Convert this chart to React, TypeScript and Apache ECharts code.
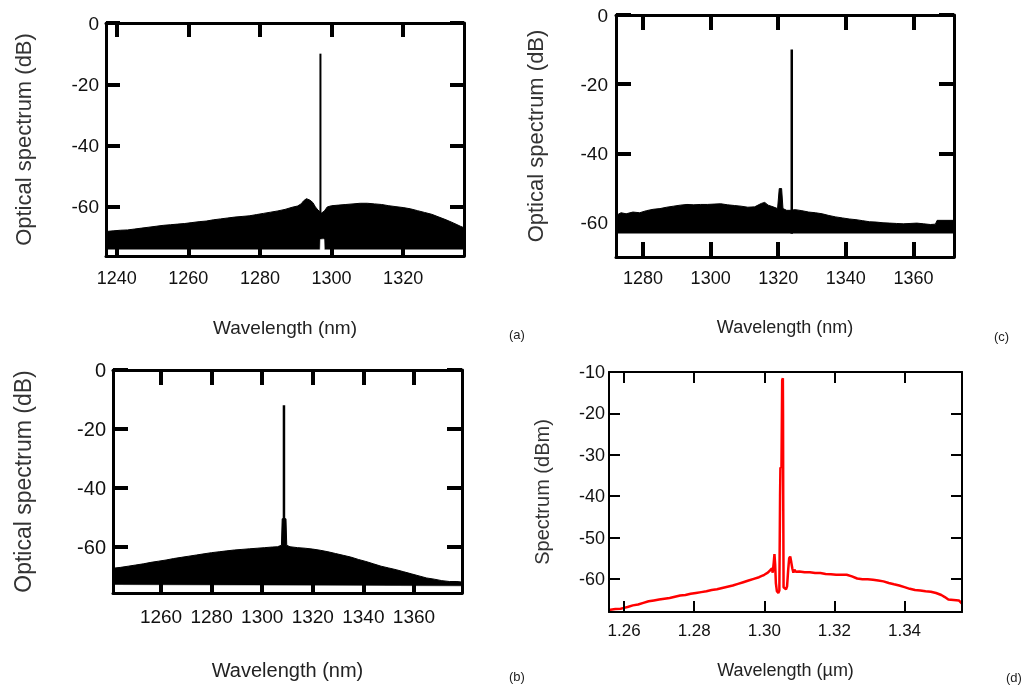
import React, { useEffect, useRef } from "react";
import * as echarts from "echarts";

// ---------- Panel (a) ----------
const A_UPPER: number[][] = [
  [1237, -68], [1239, -67.8], [1241, -67.6], [1243, -67.5], [1245, -67.2], [1247, -66.9],
  [1249, -66.6], [1251, -66.3], [1253, -66], [1255, -65.8], [1257, -65.6], [1259, -65.4],
  [1261, -65.1], [1263, -64.8], [1265, -64.6], [1267, -64.2], [1269, -63.9], [1271, -63.6],
  [1273, -63.3], [1275, -63.1], [1277, -62.9], [1279, -62.5], [1281, -62.1], [1283, -61.7],
  [1285, -61.3], [1287, -60.8], [1289, -60.1], [1290.5, -59.7], [1291.5, -59], [1292.2, -58],
  [1293, -57.3], [1294, -57.8], [1294.8, -58.6], [1295.5, -60], [1296.2, -61], [1297.2, -62],
  [1298, -61.3], [1298.8, -60], [1300, -59.6], [1302, -59.4], [1304, -59.2], [1306, -59],
  [1308, -58.8], [1310, -58.8], [1312, -59], [1314, -59.2], [1316, -59.6], [1318, -59.9],
  [1320, -60.2], [1322, -60.6], [1324, -61.2], [1326, -61.8], [1328, -62.4], [1330, -63.3],
  [1332, -64.2], [1334, -65.2], [1336, -66.3], [1337, -66.8],
];
const A_LOWER: number[][] = [
  [1237, -74], [1296.8, -74], [1296.9, -70.5], [1297.9, -70.5], [1298, -74], [1337, -74],
];
const A_PEAK = { x: 1296.9, base: -70.5, top: -10 };
const A_XTICKS = [1240, 1260, 1280, 1300, 1320];
const A_YTICKS = [0, -20, -40, -60];

// ---------- Panel (c) ----------
const C_UPPER: number[][] = [
  [1272, -58], [1273.5, -57.2], [1275, -57.5], [1277, -57], [1279, -57.2], [1281, -56.6],
  [1283, -56.2], [1285, -56], [1287, -55.6], [1289, -55.3], [1291, -55], [1293, -54.8],
  [1295, -54.9], [1297, -54.8], [1299, -54.8], [1301, -54.7], [1303, -54.6], [1305, -54.9],
  [1307, -55.1], [1309, -55.3], [1311, -55.6], [1313, -55.5], [1315, -54.5], [1316, -54.2],
  [1317, -55], [1318.5, -55.5], [1319.8, -56], [1320.3, -50.2], [1321, -50.2], [1321.4, -56],
  [1322.5, -56.5], [1323.5, -56.5], [1325, -56.3], [1327, -56.6], [1329, -57], [1331, -57.2],
  [1333, -57.5], [1335, -58], [1337, -58.4], [1339, -58.7], [1341, -59], [1343, -59.2],
  [1345, -59.5], [1347, -59.8], [1349, -59.9], [1351, -60.1], [1353, -60.2], [1355, -60.3],
  [1357, -60.4], [1359, -60.3], [1361, -60.2], [1363, -60.4], [1365, -60.6], [1366.5, -60.5],
  [1367, -59.4], [1372, -59.4],
];
const C_LOWER: number[][] = [[1272, -63.3], [1372, -63.3]];
const C_PEAK = { x: 1324.0, base: -63.3, top: -10 };
const C_XTICKS = [1280, 1300, 1320, 1340, 1360];
const C_YTICKS = [0, -20, -40, -60];

// ---------- Panel (b) ----------
const B_UPPER: number[][] = [
  [1241, -67.3], [1244, -67], [1247, -66.6], [1250, -66.2], [1253, -65.8], [1256, -65.3],
  [1259, -64.9], [1262, -64.5], [1265, -64], [1268, -63.6], [1271, -63.2], [1274, -62.8],
  [1277, -62.4], [1280, -62], [1283, -61.7], [1286, -61.4], [1289, -61.1], [1292, -60.9],
  [1295, -60.7], [1298, -60.5], [1301, -60.3], [1304, -60.1], [1306, -60], [1307.6, -59.5],
  [1307.9, -50.5], [1309.4, -50.5], [1309.7, -59.5], [1311, -60], [1314, -60.3], [1317, -60.5],
  [1320, -60.8], [1323, -61.2], [1326, -61.7], [1329, -62.3], [1332, -62.9], [1335, -63.5],
  [1338, -64.3], [1341, -65], [1344, -65.8], [1347, -66.6], [1350, -67.2], [1353, -67.8],
  [1356, -68.5], [1359, -69.2], [1362, -69.9], [1365, -70.6], [1368, -71], [1371, -71.5],
  [1374, -71.8], [1377, -71.8], [1379, -72],
];
const B_LOWER: number[][] = [[1241, -73], [1379, -73.4]];
const B_PEAK = { x: 1308.6, base: -60, top: -12 };
const B_XTICKS = [1260, 1280, 1300, 1320, 1340, 1360];
const B_YTICKS = [0, -20, -40, -60];

// ---------- Panel (d) ----------
const D_LINE: number[][] = [
  [1.2557, -67.5], [1.2575, -67.3], [1.259, -67.2], [1.26, -67.0], [1.261, -66.8], [1.2625, -66.4],
  [1.264, -66.2], [1.2655, -65.8], [1.267, -65.4], [1.2685, -65.2], [1.27, -65.0], [1.2715, -64.8],
  [1.273, -64.6], [1.2745, -64.3], [1.276, -64.0], [1.2775, -63.9], [1.279, -63.6], [1.2805, -63.4],
  [1.282, -63.2], [1.2835, -63.0], [1.285, -62.7], [1.2865, -62.5], [1.288, -62.2], [1.2895, -61.9],
  [1.291, -61.6], [1.2925, -61.2], [1.294, -60.8], [1.2955, -60.4], [1.297, -60.0], [1.2985, -59.6],
  [1.3, -59.0], [1.301, -58.5], [1.3018, -57.8], [1.3022, -57.5], [1.3024, -58.5], [1.3027, -56],
  [1.3029, -54], [1.3031, -56.5], [1.3033, -61], [1.3036, -63], [1.304, -63.4], [1.3043, -62.8],
  [1.3045, -40], [1.3046, -33.2], [1.3049, -33], [1.3051, -12], [1.3053, -11.5], [1.30535, -20],
  [1.3054, -40], [1.3055, -62], [1.3062, -62.5], [1.3065, -61.8], [1.3068, -58], [1.3071, -55.0],
  [1.3074, -54.6], [1.3077, -56], [1.308, -57.5], [1.3083, -58.5], [1.3086, -57.8], [1.309, -58.3],
  [1.31, -58.2], [1.3115, -58.4], [1.313, -58.4], [1.3145, -58.6], [1.316, -58.6], [1.3175, -58.8],
  [1.319, -58.9], [1.3205, -59.0], [1.322, -59.0], [1.3235, -59.0], [1.325, -59.4], [1.3265, -59.9],
  [1.328, -60.1], [1.3295, -60.1], [1.331, -60.2], [1.3325, -60.4], [1.334, -60.6], [1.3355, -61.0],
  [1.337, -61.3], [1.3385, -61.6], [1.34, -62.0], [1.3415, -62.4], [1.343, -62.7], [1.3445, -62.8],
  [1.346, -63.0], [1.3475, -63.1], [1.349, -63.4], [1.3505, -63.9], [1.3515, -64.4], [1.3525, -65.0],
  [1.354, -65.1], [1.3555, -65.2], [1.3564, -66.0],
];
const D_XTICKS = [1.26, 1.28, 1.3, 1.32, 1.34];
const D_YTICKS = [-10, -20, -30, -40, -50, -60];

const FONT = "Liberation Sans";

function buildAxes(gi: number, c: any) {
  const fw = c.frameW;
  const tw = c.tickW;
  const tl = c.tickLen;
  const line = () => ({ show: true, onZero: false, lineStyle: { color: "#000", width: fw } });
  const tick = (v: number[]) => ({
    show: true, inside: true, length: tl, customValues: v,
    lineStyle: { color: "#000", width: tw },
  });
  const xs: any[] = [
    {
      type: "value", gridIndex: gi, position: "bottom", min: c.xmin, max: c.xmax, z: 10,
      axisLine: line(), axisTick: tick(c.xticks), splitLine: { show: false },
      axisLabel: {
        show: true, customValues: c.xticks, fontSize: c.xLabelSize, color: "#111",
        margin: c.xLabelMargin,
        formatter: (v: number) => (c.xDec ? v.toFixed(c.xDec) : String(v)),
      },
      name: c.xName, nameLocation: "middle", nameGap: c.xNameGap,
      nameTextStyle: { fontSize: c.xNameSize, color: "#222" },
    },
    {
      type: "value", gridIndex: gi, position: "top", min: c.xmin, max: c.xmax, z: 10,
      axisLine: line(), axisTick: tick(c.xticks), splitLine: { show: false },
      axisLabel: { show: false },
    },
  ];
  const ys: any[] = [
    {
      type: "value", gridIndex: gi, position: "left", min: c.ymin, max: c.ymax, z: 10,
      axisLine: line(), axisTick: tick(c.yticks), splitLine: { show: false },
      axisLabel: {
        show: true, customValues: c.yticks, fontSize: c.yLabelSize, color: "#111",
        margin: c.yLabelMargin, formatter: (v: number) => String(v),
      },
      name: c.yName, nameLocation: "middle", nameGap: c.yNameGap, nameRotate: 90,
      nameTextStyle: { fontSize: c.yNameSize, color: "#333" },
    },
    {
      type: "value", gridIndex: gi, position: "right", min: c.ymin, max: c.ymax, z: 10,
      axisLine: line(), axisTick: tick(c.yticks), splitLine: { show: false },
      axisLabel: { show: false },
      name: c.tag, nameLocation: "start", nameGap: c.tagGap,
      nameTextStyle: { fontSize: 13, color: "#222", align: "left", padding: [0, 0, 0, c.tagPad] },
    },
  ];
  return { xs, ys };
}

function bandSeries(upper: number[][], lower: number[][], axisIdx: number) {
  return [
    {
      type: "line", xAxisIndex: axisIdx, yAxisIndex: axisIdx, data: upper, symbol: "none",
      lineStyle: { color: "#000", width: 1 }, areaStyle: { color: "#000", opacity: 1, origin: "start" },
      z: 2, silent: true,
    },
    {
      type: "line", xAxisIndex: axisIdx, yAxisIndex: axisIdx, data: lower, symbol: "none",
      lineStyle: { color: "#fff", width: 0.5 }, areaStyle: { color: "#fff", opacity: 1, origin: "start" },
      z: 3, silent: true,
    },
  ];
}

function peakSeries(p: { x: number; base: number; top: number }, axisIdx: number, w: number) {
  return {
    type: "line", xAxisIndex: axisIdx, yAxisIndex: axisIdx,
    data: [[p.x, p.base], [p.x, p.top]], symbol: "none",
    lineStyle: { color: "#000", width: w }, z: 4, silent: true,
  };
}

const PANELS: any[] = [
  {
    grid: { left: 106, top: 23, width: 358, height: 233 },
    xmin: 1237, xmax: 1337, xticks: A_XTICKS, ymin: -76, ymax: 0, yticks: A_YTICKS,
    xName: "Wavelength (nm)", yName: "Optical spectrum (dB)",
    xNameGap: 62, yNameGap: 72, xNameSize: 19, yNameSize: 22,
    xLabelSize: 18, yLabelSize: 19, xLabelMargin: 13, yLabelMargin: 7,
    frameW: 3, tickW: 4, tickLen: 14,
    tag: "(a)", tagGap: 72, tagPad: 45,
  },
  {
    grid: { left: 616, top: 15, width: 338, height: 242 },
    xmin: 1272, xmax: 1372, xticks: C_XTICKS, ymin: -70, ymax: 0, yticks: C_YTICKS,
    xName: "Wavelength (nm)", yName: "Optical spectrum (dB)",
    xNameGap: 61, yNameGap: 70, xNameSize: 18, yNameSize: 22,
    xLabelSize: 18, yLabelSize: 19, xLabelMargin: 12, yLabelMargin: 8,
    frameW: 3, tickW: 4, tickLen: 15,
    tag: "(c)", tagGap: 73, tagPad: 40,
  },
  {
    grid: { left: 113, top: 370, width: 349, height: 223 },
    xmin: 1241, xmax: 1379, xticks: B_XTICKS, ymin: -75.7, ymax: 0, yticks: B_YTICKS,
    xName: "Wavelength (nm)", yName: "Optical spectrum (dB)",
    xNameGap: 67, yNameGap: 79, xNameSize: 20, yNameSize: 23,
    xLabelSize: 19, yLabelSize: 20, xLabelMargin: 14, yLabelMargin: 7,
    frameW: 3, tickW: 4, tickLen: 15,
    tag: "(b)", tagGap: 77, tagPad: 47,
  },
  {
    grid: { left: 609, top: 372, width: 353, height: 240 },
    xmin: 1.2557, xmax: 1.3564, xticks: D_XTICKS, ymin: -68, ymax: -10, yticks: D_YTICKS,
    xName: "Wavelength (\u00b5m)", yName: "Spectrum (dBm)",
    xNameGap: 49, yNameGap: 57, xNameSize: 18, yNameSize: 20,
    xLabelSize: 17, yLabelSize: 18, xLabelMargin: 10, yLabelMargin: 4,
    frameW: 2, tickW: 2, tickLen: 11, xDec: 2,
    tag: "(d)", tagGap: 59, tagPad: 44,
  },
];

export default function App() {
  const ref = useRef<HTMLDivElement>(null);
  useEffect(() => {
    if (!ref.current) return;
    const chart = echarts.init(ref.current, undefined, { renderer: "svg" });
    const grids: any[] = [];
    const xAxes: any[] = [];
    const yAxes: any[] = [];
    PANELS.forEach((p, i) => {
      grids.push({ left: p.grid.left, top: p.grid.top, width: p.grid.width, height: p.grid.height });
      const { xs, ys } = buildAxes(i, p);
      xAxes.push(...xs);
      yAxes.push(...ys);
    });
    const series: any[] = [
      ...bandSeries(A_UPPER, A_LOWER, 0),
      peakSeries(A_PEAK, 0, 2),
      ...bandSeries(C_UPPER, C_LOWER, 2),
      peakSeries(C_PEAK, 2, 2.5),
      ...bandSeries(B_UPPER, B_LOWER, 4),
      peakSeries(B_PEAK, 4, 2.5),
      {
        type: "line", xAxisIndex: 6, yAxisIndex: 6, data: D_LINE, symbol: "none",
        lineStyle: { color: "#ff0000", width: 2.5 }, z: 3, silent: true,
      },
    ];
    chart.setOption({
      animation: false,
      textStyle: { fontFamily: FONT },
      grid: grids,
      xAxis: xAxes,
      yAxis: yAxes,
      series,
    });
    return () => chart.dispose();
  }, []);
  return <div ref={ref} style={{ position: "fixed", left: 0, top: 0, width: 1025, height: 688 }} />;
}
